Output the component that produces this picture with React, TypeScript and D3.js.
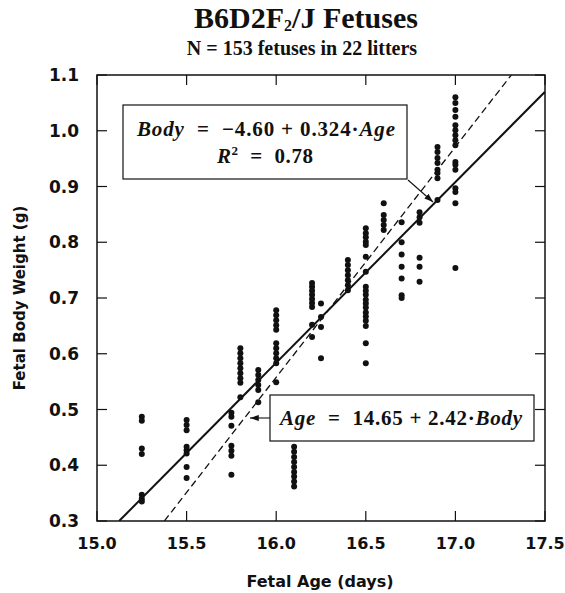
import React from "react";
import * as d3 from "d3";

const ages = [15.25, 15.5, 15.75, 15.8, 15.9, 16.0, 16.1, 16.2, 16.25, 16.4, 16.5, 16.6, 16.7, 16.8, 16.9, 17.0];
const weights: number[][] = [
  [0.487, 0.48, 0.43, 0.42, 0.347, 0.34, 0.335],
  [0.481, 0.472, 0.463, 0.433, 0.427, 0.421, 0.397, 0.377],
  [0.494, 0.487, 0.471, 0.435, 0.426, 0.417, 0.383],
  [0.61, 0.601, 0.592, 0.583, 0.574, 0.565, 0.556, 0.548, 0.522],
  [0.571, 0.562, 0.553, 0.544, 0.535, 0.513],
  [0.678, 0.669, 0.66, 0.651, 0.643, 0.619, 0.61, 0.601, 0.592, 0.583, 0.549],
  [0.433, 0.424, 0.415, 0.406, 0.397, 0.388, 0.38, 0.371, 0.362],
  [0.727, 0.72, 0.713, 0.706, 0.698, 0.691, 0.684, 0.652, 0.63],
  [0.69, 0.666, 0.648, 0.592],
  [0.768, 0.759, 0.75, 0.741, 0.732, 0.723, 0.714],
  [0.825, 0.816, 0.809, 0.801, 0.795, 0.774, 0.747, 0.72, 0.713, 0.706, 0.697, 0.69, 0.683, 0.674, 0.667, 0.659, 0.65, 0.619, 0.583],
  [0.87, 0.849, 0.84, 0.831, 0.822],
  [0.836, 0.8, 0.778, 0.756, 0.735, 0.705, 0.7],
  [0.854, 0.845, 0.835, 0.772, 0.756, 0.729],
  [0.971, 0.962, 0.951, 0.942, 0.93, 0.924, 0.915, 0.876],
  [1.06, 1.05, 1.037, 1.025, 1.01, 1.001, 0.992, 0.983, 0.974, 0.944, 0.939, 0.93, 0.897, 0.89, 0.87, 0.754],
];
const xTicks = [15.0, 15.5, 16.0, 16.5, 17.0, 17.5];
const yTicks = [0.3, 0.4, 0.5, 0.6, 0.7, 0.8, 0.9, 1.0, 1.1];
// Regression coefficients
const bodyFit = { intercept: -4.6, slope: 0.324 };
const ageFit = { intercept: 14.65, slope: 2.42 };

const W = 565, H = 593;
const L = 97, R = 545, T = 75, B = 521;
const NB = "\u00a0";

export default function App() {
  const x = d3.scaleLinear().domain([15, 17.5]).range([L, R]);
  const y = d3.scaleLinear().domain([0.3, 1.1]).range([B, T]);
  const sans = "'DejaVu Sans', sans-serif";
  const serif = "'Liberation Serif', 'Times New Roman', serif";

  const points: { a: number; w: number }[] = [];
  ages.forEach((a, i) => weights[i].forEach((w) => points.push({ a, w })));

  const line = d3.line<[number, number]>().x((d) => x(d[0])).y((d) => y(d[1]));
  const a0 = (0.3 - bodyFit.intercept) / bodyFit.slope;
  const solid: [number, number][] = [
    [a0, 0.3],
    [17.5, bodyFit.intercept + bodyFit.slope * 17.5],
  ];
  const dashed: [number, number][] = [
    [ageFit.intercept + ageFit.slope * 0.3, 0.3],
    [ageFit.intercept + ageFit.slope * 1.1, 1.1],
  ];
  const tk = 10;

  return (
    <svg width={W} height={H} style={{ position: "absolute", left: 0, top: 0, background: "#fff" }}>
      <defs>
        <clipPath id="plot">
          <rect x={L} y={T} width={R - L} height={B - T} />
        </clipPath>
        <marker id="arr" viewBox="0 0 10 10" refX="10" refY="5" markerWidth="8" markerHeight="8" orient="auto-start-reverse">
          <path d="M0,1.5 L10,5 L0,8.5 Z" fill="#111" />
        </marker>
      </defs>
      {/* Title */}
      <text x={306} y={28} textAnchor="middle" fontFamily={serif} fontWeight="bold" fontSize={30} fill="#111">
        B6D2F<tspan fontSize={16} dy={3}>2</tspan>
        <tspan dy={-3}>/J Fetuses</tspan>
      </text>
      <text x={302} y={55} textAnchor="middle" fontFamily={serif} fontWeight="bold" fontSize={20} fill="#111">
        N = 153 fetuses in 22 litters
      </text>

      {/* Lines */}
      <g clipPath="url(#plot)">
        <path d={line(solid) || ""} stroke="#111" strokeWidth={2} fill="none" />
        <path d={line(dashed) || ""} stroke="#111" strokeWidth={1.3} strokeDasharray="7,4" fill="none" />
      </g>

      {/* Points */}
      {points.map((p, i) => (
        <circle key={i} cx={x(p.a)} cy={y(p.w)} r={3} fill="#111" />
      ))}

      {/* Frame and ticks */}
      <rect x={L} y={T} width={R - L} height={B - T} fill="none" stroke="#111" strokeWidth={1.5} />
      {xTicks.map((t) => (
        <g key={"x" + t}>
          <line x1={x(t)} x2={x(t)} y1={B} y2={B - tk} stroke="#111" strokeWidth={1.2} />
          <line x1={x(t)} x2={x(t)} y1={T} y2={T + tk} stroke="#111" strokeWidth={1.2} />
          <text x={x(t)} y={549} textAnchor="middle" fontFamily={sans} fontWeight="bold" fontSize={16} fill="#111">
            {t.toFixed(1)}
          </text>
        </g>
      ))}
      {yTicks.map((t) => (
        <g key={"y" + t}>
          <line x1={L} x2={L + tk} y1={y(t)} y2={y(t)} stroke="#111" strokeWidth={1.2} />
          <line x1={R} x2={R - tk} y1={y(t)} y2={y(t)} stroke="#111" strokeWidth={1.2} />
          <text x={79} y={y(t) + 6} textAnchor="end" fontFamily={sans} fontWeight="bold" fontSize={17} fill="#111">
            {t.toFixed(1)}
          </text>
        </g>
      ))}
      <text x={320} y={587} textAnchor="middle" fontFamily={sans} fontWeight="bold" fontSize={16} fill="#111">
        Fetal Age (days)
      </text>
      <text transform={`translate(25,${(T + B) / 2}) rotate(-90)`} textAnchor="middle" fontFamily={sans} fontWeight="bold" fontSize={15} fill="#111">
        Fetal Body Weight (g)
      </text>

      {/* Box 1 */}
      <rect x={123} y={105} width={284} height={74} fill="#fff" stroke="#111" strokeWidth={1.2} />
      <text x={137} y={136} textLength={258} lengthAdjust="spacing" fontFamily={serif} fontWeight="bold" fontSize={21} fill="#111">
        <tspan fontStyle="italic">Body</tspan>
        <tspan>{`${NB}${NB}=${NB}${NB}−4.60${NB}+${NB}0.324·`}</tspan>
        <tspan fontStyle="italic">Age</tspan>
      </text>
      <text x={217} y={163} textLength={96} lengthAdjust="spacing" fontFamily={serif} fontWeight="bold" fontSize={21} fill="#111">
        <tspan fontStyle="italic">R</tspan>
        <tspan fontSize={13} dy={-8}>2</tspan>
        <tspan dy={8}>{`${NB}${NB}=${NB}${NB}0.78`}</tspan>
      </text>
      <line x1={408} y1={180} x2={433} y2={202} stroke="#111" strokeWidth={1.1} markerEnd="url(#arr)" />

      {/* Box 2 */}
      <rect x={270} y={395} width={264} height={46} fill="#fff" stroke="#111" strokeWidth={1.2} />
      <text x={280} y={425} textLength={242} lengthAdjust="spacing" fontFamily={serif} fontWeight="bold" fontSize={21} fill="#111">
        <tspan fontStyle="italic">Age</tspan>
        <tspan>{`${NB}${NB}=${NB}${NB}14.65${NB}+${NB}2.42·`}</tspan>
        <tspan fontStyle="italic">Body</tspan>
      </text>
      <line x1={270} y1={418} x2={250} y2={418} stroke="#111" strokeWidth={1.1} markerEnd="url(#arr)" />
    </svg>
  );
}
